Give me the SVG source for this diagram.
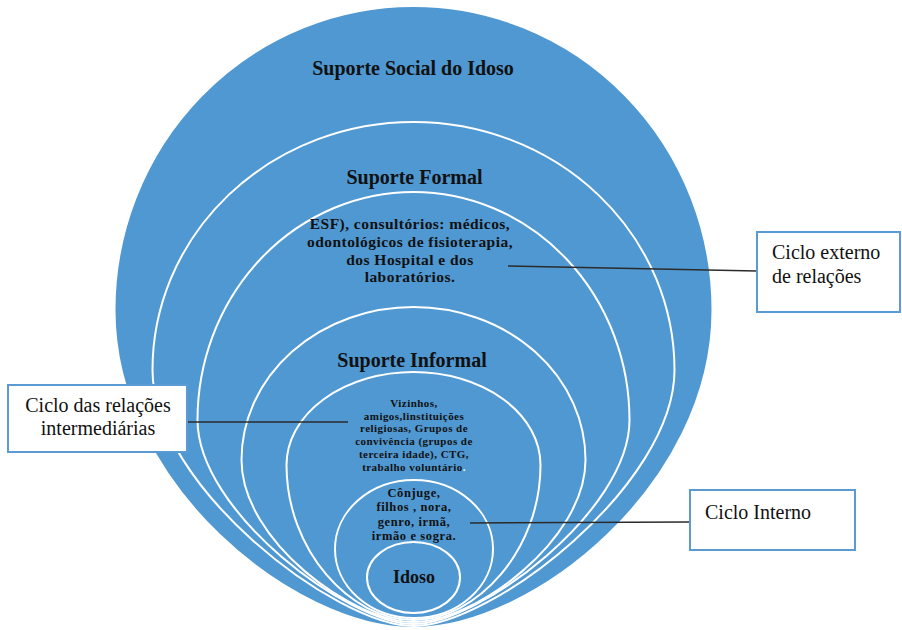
<svg xmlns="http://www.w3.org/2000/svg" width="902" height="630" viewBox="0 0 902 630">
<style>
.ring{fill:none;stroke:#ffffff;stroke-width:2}
.outer{fill:#4F98D2;stroke:#ffffff;stroke-width:2}
.t{font-family:"Liberation Serif","Times New Roman",serif;fill:#111111;text-anchor:middle}
.b{font-weight:bold}
.box{fill:#ffffff;stroke:#5B9BD5;stroke-width:2}
.lbl{font-family:"Liberation Serif","Times New Roman",serif;fill:#111111;font-size:20px}
.conn{stroke:#2b2b2b;stroke-width:1.5;fill:none}
</style>
<rect width="902" height="630" fill="#ffffff"/>
<g id="suporte-social">
<path class="outer" d="M413.5,628 C293.9,628 114.5,484.9 114.5,310 A299,304 0 0 1 413.5,6 A299,304 0 0 1 712.5,310 C712.5,484.9 533.1,628 413.5,628Z"/>
<text class="t b" x="413" y="75" font-size="20">Suporte Social do Idoso</text>
</g>
<g id="suporte-formal">
<path class="ring" d="M413.5,626 C335.2,626 152.5,485.2 152.5,370 A261,248 0 0 1 413.5,122 A261,248 0 0 1 674.5,370 C674.5,485.2 491.8,626 413.5,626Z"/>
<text class="t b" x="414.5" y="184" font-size="20">Suporte Formal</text>
</g>
<g id="formal-servicos">
<path class="ring" d="M413.5,624 C348.7,624 197.5,511.8 197.5,420 A216,228 0 0 1 413.5,192 A216,228 0 0 1 629.5,420 C629.5,511.8 478.3,624 413.5,624Z"/>
<text class="t b" font-size="15.5" letter-spacing="0.45"><tspan x="410" y="229">ESF), consultórios: médicos,</tspan><tspan x="410" y="246.8">odontológicos de fisioterapia,</tspan><tspan x="410" y="264.6">dos Hospital e dos</tspan><tspan x="410" y="282.4">laboratórios.</tspan></text>
</g>
<g id="suporte-informal">
<path class="ring" d="M413.5,622 C353.3,622 241.5,541 241.5,460 A172,153 0 0 1 413.5,307 A172,153 0 0 1 585.5,460 C585.5,541 473.7,622 413.5,622Z"/>
<text class="t b" x="412" y="367" font-size="20">Suporte Informal</text>
</g>
<g id="intermediarias">
<path class="ring" d="M413.5,620 C350,620 286.5,550.25 286.5,465 A127,93 0 0 1 413.5,372 A127,93 0 0 1 540.5,465 C540.5,550.25 477,620 413.5,620Z"/>
<text class="t b" font-size="11" letter-spacing="0.45"><tspan x="414" y="407">Vizinhos,</tspan><tspan x="414" y="419.7">amigos,linstituições</tspan><tspan x="414" y="432.4">religiosas, Grupos de</tspan><tspan x="414" y="445.1">convivência (grupos de</tspan><tspan x="414" y="457.8">terceira idade),  CTG,</tspan><tspan x="414" y="470.5">trabalho voluntário<tspan fill="#ffffff">.</tspan></tspan></text>
</g>
<g id="interno">
<ellipse class="ring" cx="414" cy="549" rx="79" ry="69"/>
<text class="t b" font-size="12.5" letter-spacing="0.6"><tspan x="414" y="497">Cônjuge,</tspan><tspan x="414" y="511.3">filhos , nora,</tspan><tspan x="414" y="525.6">genro, irmã,</tspan><tspan x="414" y="539.9">irmão e sogra.</tspan></text>
</g>
<g id="idoso">
<ellipse class="ring" cx="413.5" cy="577.5" rx="46.5" ry="35.5"/>
<text class="t b" x="414" y="583" font-size="18">Idoso</text>
</g>
<g id="connectors">
<line class="conn" x1="508" y1="266" x2="757" y2="271"/>
<line class="conn" x1="187" y1="422" x2="348" y2="422"/>
<line class="conn" x1="470" y1="523" x2="690" y2="522"/>
</g>
<g id="box-externo">
<rect class="box" x="757" y="232" width="143" height="80"/>
<text class="lbl" x="772" y="259">Ciclo externo</text>
<text class="lbl" x="772" y="283">de relações</text>
</g>
<g id="box-intermediarias">
<rect class="box" x="8" y="385" width="179" height="67"/>
<text class="lbl" x="98" y="412" text-anchor="middle">Ciclo das relações</text>
<text class="lbl" x="98" y="435" text-anchor="middle">intermediárias</text>
</g>
<g id="box-interno">
<rect class="box" x="690" y="490" width="165" height="60"/>
<text class="lbl" x="705" y="519">Ciclo Interno</text>
</g>
</svg>
